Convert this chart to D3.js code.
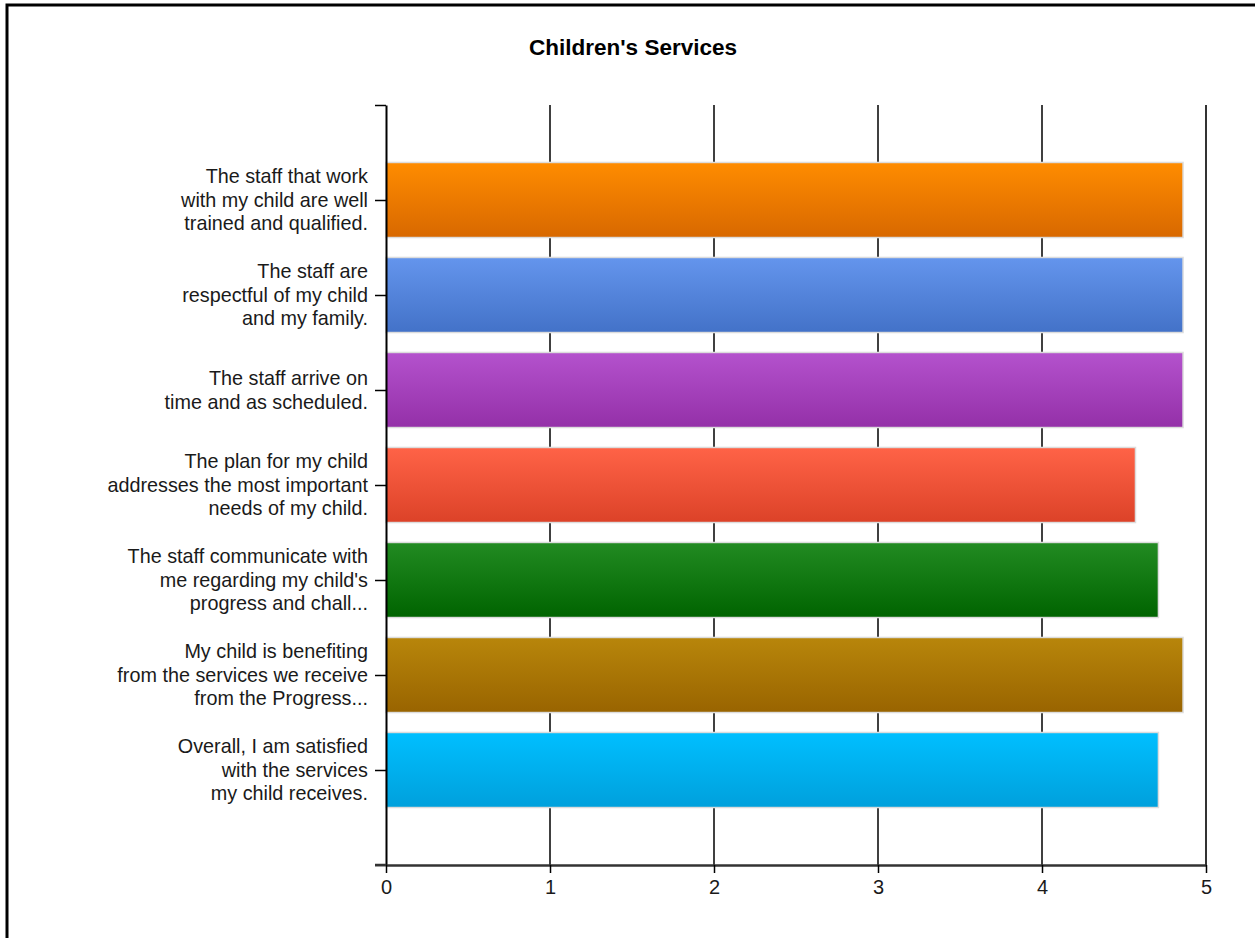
<!DOCTYPE html>
<html>
<head>
<meta charset="utf-8">
<script src="https://cdn.jsdelivr.net/npm/d3@7"></script>
<style>
  html, body { margin: 0; padding: 0; background: #fff; }
  svg { display: block; }
</style>
</head>
<body>
<svg id="chart" width="1255" height="938"></svg>
<script>
// Survey questions (already wrapped/truncated into display lines)
const categories = [
  ["The staff that work", "with my child are well", "trained and qualified."],
  ["The staff are", "respectful of my child", "and my family."],
  ["The staff arrive on", "time and as scheduled."],
  ["The plan for my child", "addresses the most important", "needs of my child."],
  ["The staff communicate with", "me regarding my child's", "progress and chall..."],
  ["My child is benefiting", "from the services we receive", "from the Progress..."],
  ["Overall, I am satisfied", "with the services", "my child receives."]
];
// Mean rating per question (0-5 scale)
const values = [4.86, 4.86, 4.86, 4.57, 4.71, 4.86, 4.71];
// Bar gradient colours: [top, bottom]
const barColors = [
  ["#ff8c00", "#d86800"],
  ["#6495ed", "#4372c8"],
  ["#b452cd", "#9430a8"],
  ["#ff6347", "#dc4228"],
  ["#228b22", "#006400"],
  ["#b8860b", "#996400"],
  ["#00bfff", "#00a0dc"]
];
const xTicks = [0, 1, 2, 3, 4, 5];
const title = "Children's Services";

const svg = d3.select("#chart");
const plotLeft = 386, plotRight = 1206, plotTop = 105, plotBottom = 865;
const fontFamily = "Liberation Sans, Arial, sans-serif";

// Frame around the whole chart
svg.append("rect")
  .attr("x", 7).attr("y", 5)
  .attr("width", 1300).attr("height", 1000)
  .attr("fill", "none").attr("stroke", "#000").attr("stroke-width", 3);

svg.append("text")
  .attr("x", 633).attr("y", 55)
  .attr("text-anchor", "middle")
  .attr("font-family", fontFamily)
  .attr("font-weight", "bold")
  .attr("font-size", 22.5)
  .attr("fill", "#000")
  .text(title);

const x = d3.scaleLinear().domain([0, 5]).range([plotLeft, plotRight]);
// Categories sit at slots 1..n inside a domain padded by one slot each side
const y = d3.scaleLinear().domain([0, categories.length + 1]).range([plotTop, plotBottom]);
const slot = y(1) - y(0);
const barH = slot * 0.79;

// Vertical gridlines
svg.append("g").selectAll("line")
  .data(xTicks.slice(1))
  .join("line")
  .attr("x1", d => x(d)).attr("x2", d => x(d))
  .attr("y1", plotTop).attr("y2", plotBottom)
  .attr("stroke", (d, i, n) => i === n.length - 1 ? "#333" : "#000")
  .attr("stroke-width", (d, i, n) => i === n.length - 1 ? 2 : 1.5);

// Gradients
const defs = svg.append("defs");
barColors.forEach((c, i) => {
  const g = defs.append("linearGradient")
    .attr("id", "grad" + i)
    .attr("x1", 0).attr("y1", 0).attr("x2", 0).attr("y2", 1);
  g.append("stop").attr("offset", "0%").attr("stop-color", c[0]);
  g.append("stop").attr("offset", "100%").attr("stop-color", c[1]);
});

// Bars
svg.append("g").selectAll("rect")
  .data(values)
  .join("rect")
  .attr("x", x(0))
  .attr("y", (d, i) => y(i + 1) - barH / 2)
  .attr("width", d => x(d) - x(0))
  .attr("height", barH)
  .attr("fill", (d, i) => `url(#grad${i})`)
  .attr("stroke", "#dcdcdc")
  .attr("stroke-width", 1.5);

// Y axis (ticks at slot boundaries and category centres)
const yAxis = d3.axisLeft(y)
  .tickValues(d3.range(0, categories.length + 2))
  .tickSize(11)
  .tickSizeOuter(0)
  .tickFormat("");
const yg = svg.append("g").attr("transform", `translate(${plotLeft},0)`).call(yAxis);
yg.select(".domain").attr("stroke", "#000").attr("stroke-width", 2);
yg.selectAll(".tick line").attr("stroke", "#000").attr("stroke-width", 1.5);

// Category labels
const labelG = svg.append("g")
  .attr("font-family", fontFamily)
  .attr("font-size", 19.8)
  .attr("fill", "#1a1a1a")
  .attr("text-anchor", "end");
categories.forEach((lines, i) => {
  const lh = 23.5;
  const cy = y(i + 1);
  const t = labelG.append("text").attr("x", 368);
  lines.forEach((ln, j) => {
    t.append("tspan")
      .attr("x", 368)
      .attr("y", cy + (j - (lines.length - 1) / 2) * lh)
      .attr("dy", "0.35em")
      .text(ln);
  });
});

// X axis
const xAxis = d3.axisBottom(x)
  .tickValues(xTicks)
  .tickFormat(d3.format("d"))
  .tickSize(8)
  .tickSizeOuter(0)
  .tickPadding(7);
const xg = svg.append("g").attr("transform", `translate(0,${plotBottom})`).call(xAxis);
xg.select(".domain").attr("stroke", "#333").attr("stroke-width", 2.5);
xg.selectAll(".tick line").attr("stroke", "#000").attr("stroke-width", 1.5);
xg.selectAll(".tick text")
  .attr("font-family", fontFamily)
  .attr("font-size", 20)
  .attr("fill", "#1a1a1a");
// extend the x axis line left to meet the bottom y tick
xg.append("line")
  .attr("x1", plotLeft - 11).attr("x2", plotLeft)
  .attr("y1", 0).attr("y2", 0)
  .attr("stroke", "#333").attr("stroke-width", 2.5);
</script>
</body>
</html>
